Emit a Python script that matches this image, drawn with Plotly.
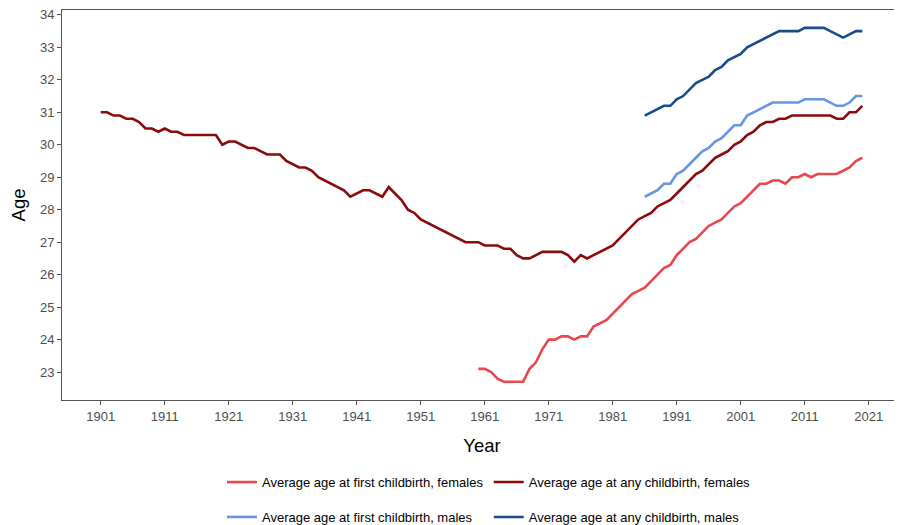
import plotly.graph_objects as go

years_any_f = list(range(1901, 2021))
any_females = [
    31.0, 31.0, 30.9, 30.9, 30.8, 30.8, 30.7, 30.5, 30.5, 30.4,   # 1901-1910
    30.5, 30.4, 30.4, 30.3, 30.3, 30.3, 30.3, 30.3, 30.3, 30.0,   # 1911-1920
    30.1, 30.1, 30.0, 29.9, 29.9, 29.8, 29.7, 29.7, 29.7, 29.5,   # 1921-1930
    29.4, 29.3, 29.3, 29.2, 29.0, 28.9, 28.8, 28.7, 28.6, 28.4,   # 1931-1940
    28.5, 28.6, 28.6, 28.5, 28.4, 28.7, 28.5, 28.3, 28.0, 27.9,   # 1941-1950
    27.7, 27.6, 27.5, 27.4, 27.3, 27.2, 27.1, 27.0, 27.0, 27.0,   # 1951-1960
    26.9, 26.9, 26.9, 26.8, 26.8, 26.6, 26.5, 26.5, 26.6, 26.7,   # 1961-1970
    26.7, 26.7, 26.7, 26.6, 26.4, 26.6, 26.5, 26.6, 26.7, 26.8,   # 1971-1980
    26.9, 27.1, 27.3, 27.5, 27.7, 27.8, 27.9, 28.1, 28.2, 28.3,   # 1981-1990
    28.5, 28.7, 28.9, 29.1, 29.2, 29.4, 29.6, 29.7, 29.8, 30.0,   # 1991-2000
    30.1, 30.3, 30.4, 30.6, 30.7, 30.7, 30.8, 30.8, 30.9, 30.9,   # 2001-2010
    30.9, 30.9, 30.9, 30.9, 30.9, 30.8, 30.8, 31.0, 31.0, 31.2,   # 2011-2020
]

years_first_f = list(range(1960, 2021))
first_females = [
    23.1,                                                         # 1960
    23.1, 23.0, 22.8, 22.7, 22.7, 22.7, 22.7, 23.1, 23.3, 23.7,   # 1961-1970
    24.0, 24.0, 24.1, 24.1, 24.0, 24.1, 24.1, 24.4, 24.5, 24.6,   # 1971-1980
    24.8, 25.0, 25.2, 25.4, 25.5, 25.6, 25.8, 26.0, 26.2, 26.3,   # 1981-1990
    26.6, 26.8, 27.0, 27.1, 27.3, 27.5, 27.6, 27.7, 27.9, 28.1,   # 1991-2000
    28.2, 28.4, 28.6, 28.8, 28.8, 28.9, 28.9, 28.8, 29.0, 29.0,   # 2001-2010
    29.1, 29.0, 29.1, 29.1, 29.1, 29.1, 29.2, 29.3, 29.5, 29.6,   # 2011-2020
]

years_males = list(range(1986, 2021))
first_males = [
    28.4, 28.5, 28.6, 28.8, 28.8,                                 # 1986-1990
    29.1, 29.2, 29.4, 29.6, 29.8, 29.9, 30.1, 30.2, 30.4, 30.6,   # 1991-2000
    30.6, 30.9, 31.0, 31.1, 31.2, 31.3, 31.3, 31.3, 31.3, 31.3,   # 2001-2010
    31.4, 31.4, 31.4, 31.4, 31.3, 31.2, 31.2, 31.3, 31.5, 31.5,   # 2011-2020
]
any_males = [
    30.9, 31.0, 31.1, 31.2, 31.2,                                 # 1986-1990
    31.4, 31.5, 31.7, 31.9, 32.0, 32.1, 32.3, 32.4, 32.6, 32.7,   # 1991-2000
    32.8, 33.0, 33.1, 33.2, 33.3, 33.4, 33.5, 33.5, 33.5, 33.5,   # 2001-2010
    33.6, 33.6, 33.6, 33.6, 33.5, 33.4, 33.3, 33.4, 33.5, 33.5,   # 2011-2020
]

x_ticks = list(range(1901, 2022, 10))
y_ticks = list(range(23, 35))

series = [
    ("Average age at first childbirth, females", years_first_f, first_females, "#E8474E", "legend", "g1"),
    ("Average age at any childbirth, females", years_any_f, any_females, "#8B0A0A", "legend2", "g3"),
    ("Average age at first childbirth, males", years_males, first_males, "#6794E3", "legend", "g2"),
    ("Average age at any childbirth, males", years_males, any_males, "#174D8A", "legend2", "g4"),
]

fig = go.Figure()
for name, xs, ys, color, leg, grp in series:
    fig.add_trace(go.Scatter(
        x=xs, y=ys, mode="lines", name=name,
        line=dict(color=color, width=2.6),
        legend=leg, legendgroup=grp,
    ))

axis_color = "#555555"
tick_font = dict(family="Liberation Sans, Arial, sans-serif", size=13, color="#4D4D4D")

# page body adds an 8px offset, so the figure is sized to the remaining viewport
fig.update_layout(
    width=894, height=517,
    margin=dict(l=54, r=0, t=2, b=125),
    plot_bgcolor="white", paper_bgcolor="white",
    font=dict(family="Liberation Sans, Arial, sans-serif", color="black"),
    xaxis=dict(
        range=[1894.95, 2026.2], tickvals=x_ticks, ticktext=[str(v) for v in x_ticks],
        showgrid=False, zeroline=False, showline=True, linecolor=axis_color, linewidth=1,
        mirror=True, ticks="outside", ticklen=4, tickcolor=axis_color, tickfont=tick_font,
        automargin=False, ticklabeloverflow="allow",
        title=dict(text="Year", font=dict(size=18.5, color="black"), standoff=16),
    ),
    yaxis=dict(
        range=[22.14, 34.15], tickvals=y_ticks,
        showgrid=False, zeroline=False, showline=True, linecolor=axis_color, linewidth=1,
        ticks="outside", ticklen=4, tickcolor=axis_color, tickfont=tick_font,
        automargin=False, ticklabeloverflow="allow",
        title=dict(text="Age", font=dict(size=18.5, color="black"), standoff=16),
    ),
    legend=dict(
        x=0.1905, y=0.112, xref="paper", yref="container", xanchor="left", yanchor="top",
        orientation="v", font=dict(size=13, color="black"), tracegroupgap=15,
        bgcolor="rgba(0,0,0,0)",
    ),
    legend2=dict(
        x=0.508, y=0.112, xref="paper", yref="container", xanchor="left", yanchor="top",
        orientation="v", font=dict(size=13, color="black"), tracegroupgap=15,
        bgcolor="rgba(0,0,0,0)",
    ),
    showlegend=True,
)

fig.write_html("out.html")
